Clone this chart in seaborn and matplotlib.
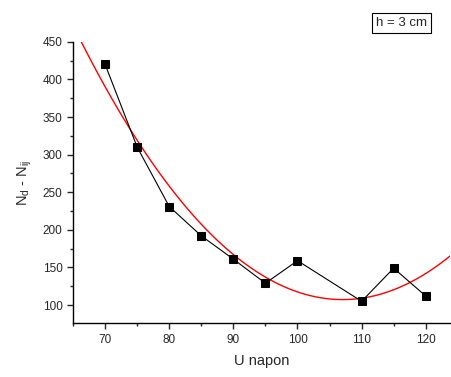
"""Nd - Nij versus voltage, with a quadratic fit."""

import matplotlib

matplotlib.use("Agg")
import matplotlib.pyplot as plt  # noqa: E402
import pandas as pd  # noqa: E402
import seaborn as sns  # noqa: E402
from matplotlib.ticker import MultipleLocator  # noqa: E402

sns.set_theme(style="ticks")
plt.rcParams["font.family"] = ["Liberation Sans", "DejaVu Sans"]
plt.rcParams["mathtext.fontset"] = "custom"
plt.rcParams["mathtext.rm"] = "Liberation Sans"

napon = [70, 75, 80, 85, 90, 95, 100, 110, 115, 120]
razlika = [420, 310, 231, 192, 161, 129, 159, 105, 149, 112]

df = pd.DataFrame({"U": napon, "N": razlika})

fig = plt.figure(figsize=(4.51, 3.77), dpi=100)
ax = fig.add_axes([0.162, 0.143, 0.836, 0.746])

ax.set_xlim(65, 123.8)
ax.set_ylim(76, 450)

sns.regplot(
    data=df, x="U", y="N", order=2, ci=None, truncate=False, scatter=False,
    line_kws=dict(color="red", linewidth=1.0), ax=ax,
)
sns.lineplot(
    data=df, x="U", y="N", color="black", linewidth=0.8, marker="s",
    markersize=6, markeredgecolor="black", ax=ax,
)

ax.set_xlim(65, 123.8)
ax.set_ylim(76, 450)
ax.xaxis.set_major_locator(MultipleLocator(10))
ax.xaxis.set_minor_locator(MultipleLocator(5))
ax.yaxis.set_major_locator(MultipleLocator(50))
ax.yaxis.set_minor_locator(MultipleLocator(25))
ax.tick_params(which="major", length=4, width=1, labelsize=8.5, direction="out")
ax.tick_params(which="minor", length=2.5, width=1, direction="out")
sns.despine(ax=ax)
for s in ("left", "bottom"):
    ax.spines[s].set_linewidth(1)
    ax.spines[s].set_color("black")

ax.set_xlabel("U napon", fontsize=10.5, labelpad=6)
ax.set_ylabel("N$_\\mathrm{d}$ - N$_\\mathrm{ij}$", fontsize=10.5, labelpad=6)

fig.text(0.891, 0.938, "h = 3 cm", fontsize=9.5, ha="center", va="center",
         bbox=dict(boxstyle="square,pad=0.3", facecolor="white",
                   edgecolor="black", linewidth=0.8))

fig.savefig("out.png", dpi=100)
plt.close(fig)
